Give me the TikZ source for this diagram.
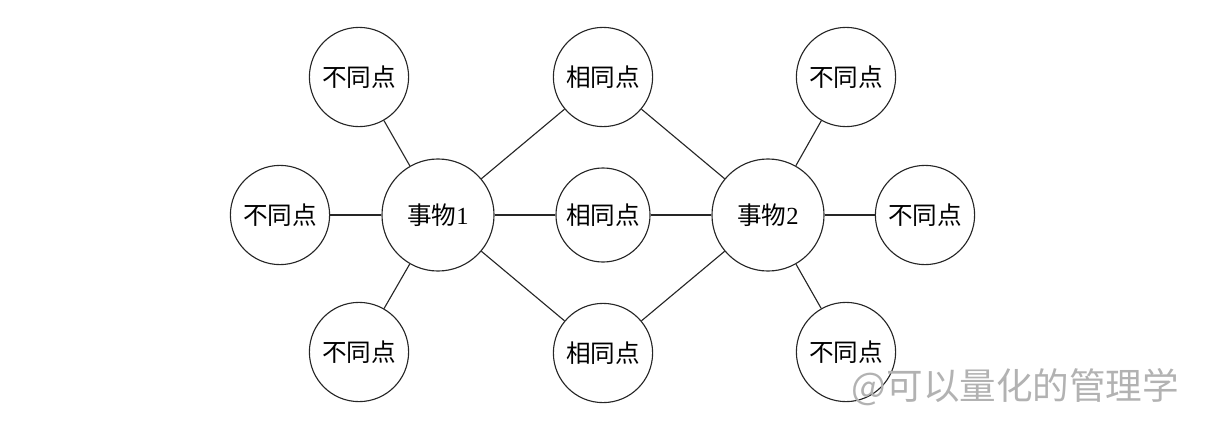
\documentclass[tikz,border=0pt]{standalone}
\usepackage{fontspec}
\setmainfont{Liberation Serif}
\newfontfamily\cjk{Noto Sans CJK SC}
\newcommand{\zh}[1]{{\cjk #1}}

\begin{document}
\begin{tikzpicture}[
  x=0.025cm, y=-0.025cm,
  font=\fontsize{17.5}{20}\selectfont,
  point/.style={circle, draw=black!85, line width=0.8pt, inner sep=0pt,
    minimum size=2.48cm},
  thing/.style={point, minimum size=2.8cm},
  link/.style={line width=0.8pt, draw=black!85},
]
\useasboundingbox (0,0) rectangle (1205,434);

% ---- the two things -------------------------------------------------------
\node[thing] (thingA) at (438,215) {\zh{事物}1};
\node[thing] (thingB) at (768,215) {\zh{事物}2};

% ---- what they share ------------------------------------------------------
\node[point] (sameT) at (603,77)  {\zh{相同点}};
\node[point, minimum size=2.35cm] (sameM) at (603,215) {\zh{相同点}};
\node[point] (sameB) at (603,353) {\zh{相同点}};

% ---- where they differ ----------------------------------------------------
\node[point] (diffAT) at (359,77)  {\zh{不同点}};
\node[point] (diffAL) at (280,215) {\zh{不同点}};
\node[point] (diffAB) at (359,352) {\zh{不同点}};
\node[point] (diffBT) at (846,77)  {\zh{不同点}};
\node[point] (diffBR) at (925,215) {\zh{不同点}};
\node[point] (diffBB) at (846,352) {\zh{不同点}};

\foreach \a/\b in {thingA/sameT, thingA/sameM, thingA/sameB,
                   sameT/thingB, sameM/thingB, sameB/thingB,
                   thingA/diffAT, thingA/diffAL, thingA/diffAB,
                   thingB/diffBT, thingB/diffBR, thingB/diffBB}
  \draw[link] (\a) -- (\b);

\node[anchor=east, text=black!30, font=\cjk\fontsize{26}{28}\selectfont]
  (mark) at (1184,387) {@可以量化的管理学};

\end{tikzpicture}
\end{document}
